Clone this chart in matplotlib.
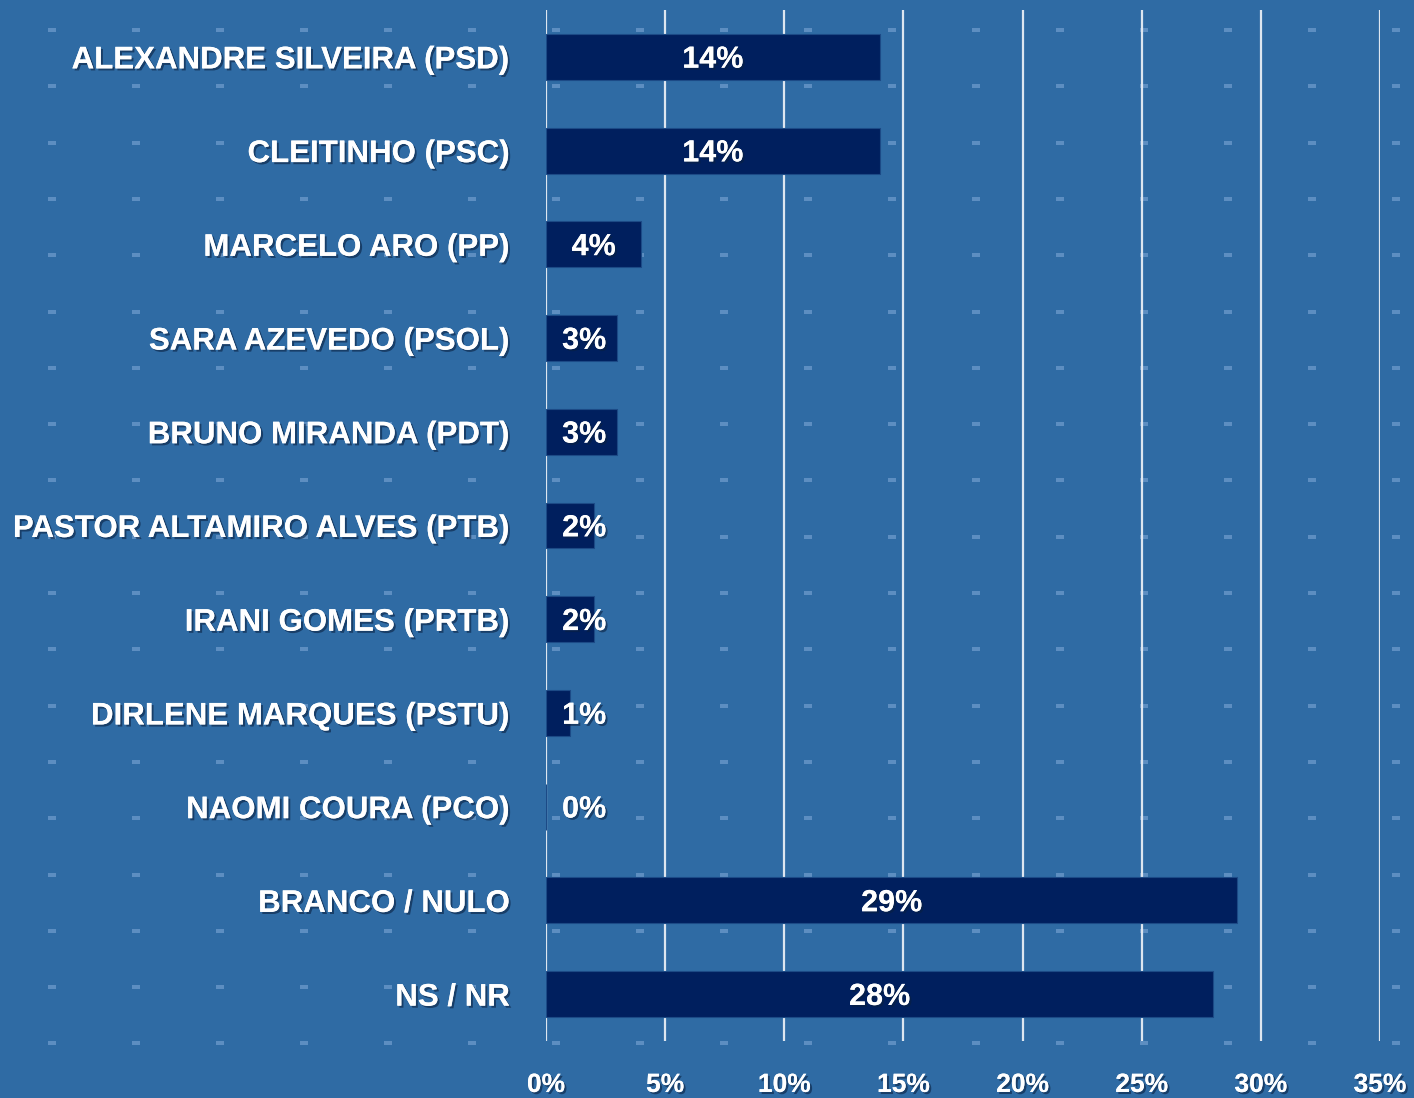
import numpy as np
import matplotlib
matplotlib.use('Agg')
import matplotlib.pyplot as plt
import matplotlib.patheffects as pe
from matplotlib.path import Path

candidatos = ['ALEXANDRE SILVEIRA (PSD)', 'CLEITINHO (PSC)', 'MARCELO ARO (PP)',
              'SARA AZEVEDO (PSOL)', 'BRUNO MIRANDA (PDT)', 'PASTOR ALTAMIRO ALVES (PTB)',
              'IRANI GOMES (PRTB)', 'DIRLENE MARQUES (PSTU)', 'NAOMI COURA (PCO)',
              'BRANCO / NULO', 'NS / NR']
votos = [14, 14, 4, 3, 3, 2, 2, 1, 0, 29, 28]
ticks = [0, 5, 10, 15, 20, 25, 30, 35]

plt.rcParams['font.family'] = ['Liberation Sans', 'DejaVu Sans']
plt.rcParams['font.weight'] = 'bold'

bg = '#2f6ba4'
bar_col = '#001f5e'
W, H = 1414, 1098
fig = plt.figure(figsize=(W / 100, H / 100), dpi=100, facecolor=bg)

# background pattern of small dashes
bgax = fig.add_axes([0, 0, 1, 1], zorder=0)
bgax.set_xlim(0, W)
bgax.set_ylim(H, 0)
bgax.axis('off')
dash = Path([(-1, -0.5), (1, -0.5), (1, 0.5), (-1, 0.5), (-1, -0.5)], closed=True)
dx, dy = np.meshgrid(np.arange(52, W, 84), np.arange(30, H, 56.3))
bgax.scatter(dx.ravel(), dy.ravel(), marker=dash, s=30, color='#6d9acb', alpha=0.75, linewidths=0)

ax = fig.add_axes([546 / W, 1 - 1041 / H, (1380 - 546) / W, (1041 - 10) / H], zorder=1)
ax.patch.set_alpha(0)
y = np.arange(len(candidatos))
ax.barh(y, votos, height=0.49, color=bar_col, edgecolor='#1c4a86', linewidth=0.8, zorder=3)
ax.set_ylim(len(candidatos) - 0.5, -0.5)
ax.set_xlim(0, 35)
ax.set_xticks(ticks)
ax.set_xticklabels([f'{t}%' for t in ticks])
ax.xaxis.grid(True, color='#dde6f0', linewidth=1.6, zorder=1)
ax.set_axisbelow(True)
ax.tick_params(axis='x', length=0, labelsize=19, pad=23)
ax.tick_params(axis='y', length=0, labelsize=22.5, pad=26)
ax.set_yticks(y)
ax.set_yticklabels(candidatos)
for s in ax.spines.values():
    s.set_visible(False)

shadow = [pe.withSimplePatchShadow(offset=(1.5, -1.5), shadow_rgbFace='#0a2040', alpha=0.6), pe.Normal()]
for lab in ax.get_xticklabels() + ax.get_yticklabels():
    lab.set_color('white')
    lab.set_fontweight('bold')
    lab.set_path_effects(shadow)

for yi, v in zip(y, votos):
    ax.text(max(v / 2, 1.6), yi + 0.03, f'{v}%', ha='center', va='center', color='white',
            fontsize=22, fontweight='bold', path_effects=shadow, zorder=4)

fig.savefig('out.png', dpi=100, facecolor=bg)
